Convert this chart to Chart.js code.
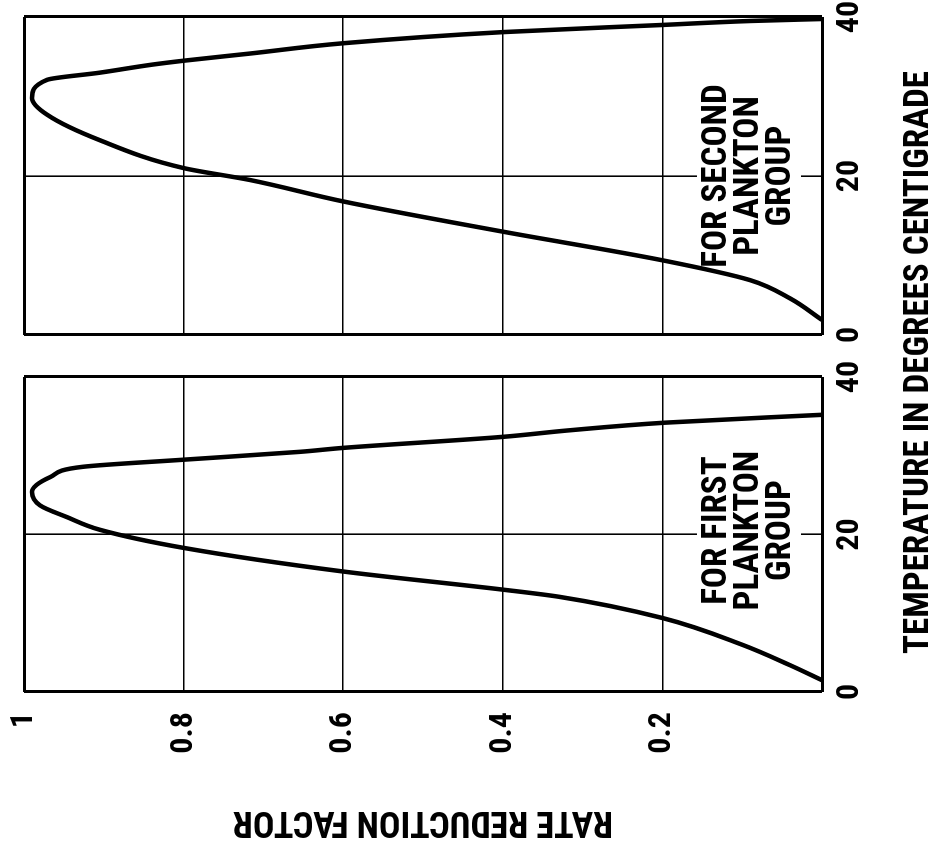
<!DOCTYPE html>
<html>
<head>
<meta charset="utf-8">
<script src="https://cdn.jsdelivr.net/npm/chart.js@4.4.0/dist/chart.umd.min.js"></script>
<style>
  html, body { margin: 0; padding: 0; background: #fff; overflow: hidden; }
  /* the figure is laid out upright, then turned a quarter left like the scan */
  #page { position: absolute; left: 0; top: 0; width: 849px; height: 943px;
          transform-origin: 0 0; transform: translate(0, 849px) rotate(-90deg); }
  #page canvas { position: absolute; top: 0; }
  #tempTitle { position: absolute; left: 149px; width: 675px; top: 899px; text-align: center; color: #000;
               font: bold 35px/36px "Roboto Condensed", "Open Sans Condensed", sans-serif; }
</style>
</head>
<body>
<div id="page">
  <canvas id="first" width="490" height="943" style="left:0"></canvas>
  <canvas id="second" width="359" height="943" style="left:490px"></canvas>
  <div id="tempTitle">TEMPERATURE IN DEGREES CENTIGRADE</div>
</div>
<script>
const tempTicks = [0, 20, 40];
const rateTicks = [0, 0.2, 0.4, 0.6, 0.8, 1];
const rateTickLabels = ["", "0.2", "0.4", "0.6", "0.8", "1"];

// first plankton group
const firstTemp = [1.5, 3.4, 6.0, 9.4, 12.1, 13.0, 15.3, 18.3, 20.6, 22.2, 23.7, 25.4, 27.3, 28.6, 29.5, 30.5, 31.0, 32.4, 33.2, 34.2, 35.2];
const firstRate = [0.0, 0.04, 0.10, 0.20, 0.33, 0.40, 0.60, 0.80, 0.905, 0.946, 0.98, 0.99, 0.967, 0.926, 0.80, 0.654, 0.60, 0.40, 0.32, 0.197, 0.0];

// second plankton group
const secondTemp = [1.9, 4.6, 6.9, 9.4, 13.0, 16.8, 19.5, 21.0, 24.5, 27.7, 29.8, 32.1, 33.0, 34.0, 34.5, 35.4, 36.7, 38.1, 39.0, 39.5, 39.75];
const secondRate = [0.0, 0.04, 0.09, 0.20, 0.40, 0.60, 0.717, 0.80, 0.905, 0.971, 0.99, 0.971, 0.905, 0.84, 0.80, 0.717, 0.60, 0.40, 0.20, 0.09, 0.0];

const firstLabel = ["FOR FIRST", "PLANKTON", "GROUP"];
const secondLabel = ["FOR SECOND", "PLANKTON", "GROUP"];

const family = "'Roboto Condensed', 'Open Sans Condensed', sans-serif";
const tickFont = { family: family, size: 32, weight: "bold", lineHeight: 1 };
const titleFont = { family: family, size: 36, weight: "bold", lineHeight: 1 };

Chart.defaults.color = "#000";
Chart.defaults.font.family = family;

const toPoints = (xs, ys) => xs.map((x, i) => ({ x: x, y: ys[i] }));

// panel frame = outer grid lines drawn heavier
const edgeWidth = (lo, hi) => (ctx) =>
    (ctx.tick && (ctx.tick.value === lo || ctx.tick.value === hi)) ? 3 : 1.6;

const groupLabel = {
    id: "groupLabel",
    beforeDatasetsDraw(chart, args, opts) {
        const { ctx, scales: { x, y } } = chart;
        const cx = x.getPixelForValue(opts.temp);
        const cy = y.getPixelForValue(opts.rate);
        const lh = opts.lineHeight;
        ctx.save();
        ctx.font = "bold " + opts.size + "px " + family;
        ctx.textAlign = "center";
        ctx.textBaseline = "middle";
        const w = Math.max(...opts.text.map((t) => ctx.measureText(t).width));
        const h = lh * opts.text.length;
        ctx.fillStyle = "#fff";
        ctx.fillRect(cx - w / 2 - 6, cy - h / 2 - 4, w + 12, h + 8);
        ctx.fillStyle = "#000";
        opts.text.forEach((t, i) => ctx.fillText(t, cx, cy - h / 2 + lh * (i + 0.5)));
        ctx.restore();
    }
};

function makeScales(showRate) {
    return {
        x: {
            type: "linear",
            min: 0,
            max: 40,
            afterBuildTicks: (s) => { s.ticks = tempTicks.map((v) => ({ value: v })); },
            afterFit: (s) => { s.height = 44; s.paddingLeft = 0; s.paddingRight = 0; },
            ticks: { font: tickFont, padding: 12, maxRotation: 0, minRotation: 0 },
            grid: { color: "#000", lineWidth: edgeWidth(0, 40), drawTicks: false },
            border: { display: false }
        },
        y: {
            min: 0,
            max: 1,
            afterBuildTicks: (s) => { s.ticks = rateTicks.map((v) => ({ value: v })); },
            afterFit: (s) => { s.width = showRate ? 157 : 0; s.paddingTop = 0; s.paddingBottom = 0; },
            ticks: {
                display: showRate,
                font: tickFont,
                padding: 20,
                callback: (v) => rateTickLabels[rateTicks.indexOf(v)]
            },
            grid: { color: "#000", lineWidth: edgeWidth(0, 1), drawTicks: false },
            border: { display: false },
            title: {
                display: showRate,
                text: "RATE REDUCTION FACTOR",
                font: titleFont,
                padding: { top: 10, bottom: 0 }
            }
        }
    };
}

function makeChart(id, temps, rates, label, padding, showRate, labelTemp) {
    return new Chart(document.getElementById(id), {
        type: "line",
        data: {
            datasets: [{
                data: toPoints(temps, rates),
                borderColor: "#000",
                borderWidth: 4.5,
                pointRadius: 0,
                fill: false,
                cubicInterpolationMode: "monotone"
            }]
        },
        options: {
            responsive: false,
            animation: false,
            layout: { padding: padding },
            scales: makeScales(showRate),
            plugins: {
                legend: { display: false },
                tooltip: { enabled: false },
                groupLabel: { text: label, temp: labelTemp, rate: 0.0915, size: 35, lineHeight: 32 }
            }
        },
        plugins: [groupLabel]
    });
}

makeChart("first", firstTemp, firstRate, firstLabel,
    { left: 0, right: 18, top: 24, bottom: 77 }, true, 20.5);
makeChart("second", secondTemp, secondRate, secondLabel,
    { left: 24, right: 17, top: 24, bottom: 77 }, false, 20.0);
</script>
</body>
</html>
